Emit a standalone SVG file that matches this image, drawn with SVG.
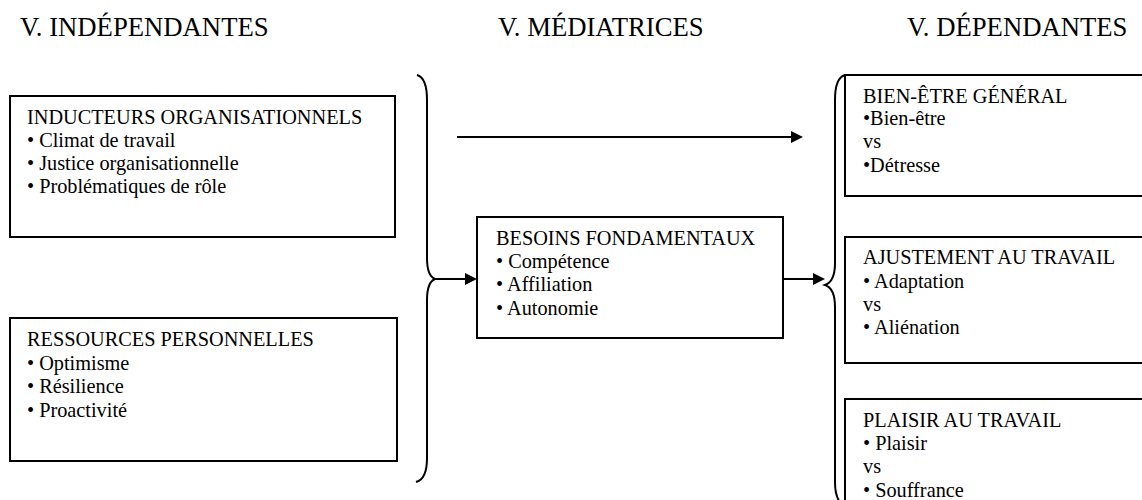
<svg xmlns="http://www.w3.org/2000/svg" width="1142" height="500" viewBox="0 0 1142 500">
<style>
.h{font-size:26.7px}
.t{font-size:20.3px}
.box{fill:#fff;stroke:#000;stroke-width:2}
.ln{fill:none;stroke:#000;stroke-width:2}
</style>
<defs>
<marker id="ah" markerUnits="userSpaceOnUse" markerWidth="12" markerHeight="12" refX="0" refY="6" orient="auto">
<path d="M0,0 L12,6 L0,12 z" fill="#000"/>
</marker>
</defs>
<rect width="1142" height="500" fill="#fff"/>
<g font-family="'Liberation Serif', 'Times New Roman', Tinos, 'DejaVu Serif', serif" fill="#000">
<g id="headers">
<text class="h" x="20" y="36">V. INDÉPENDANTES</text>
<text class="h" x="498" y="36">V. MÉDIATRICES</text>
<text class="h" x="907" y="36">V. DÉPENDANTES</text>
</g>
<g id="inducteurs">
<rect class="box" x="10" y="96" width="385" height="141"/>
<text class="t" x="27" y="124">INDUCTEURS ORGANISATIONNELS</text>
<text class="t" x="27" y="147">• Climat de travail</text>
<text class="t" x="27" y="170">• Justice organisationnelle</text>
<text class="t" x="27" y="193">• Problématiques de rôle</text>
</g>
<g id="ressources">
<rect class="box" x="10" y="318" width="387" height="143"/>
<text class="t" x="27" y="346">RESSOURCES PERSONNELLES</text>
<text class="t" x="27" y="370">• Optimisme</text>
<text class="t" x="27" y="393">• Résilience</text>
<text class="t" x="27" y="417">• Proactivité</text>
</g>
<g id="besoins">
<rect class="box" x="477" y="217" width="306" height="121"/>
<text class="t" x="496" y="245">BESOINS FONDAMENTAUX</text>
<text class="t" x="496" y="268">• Compétence</text>
<text class="t" x="496" y="291">• Affiliation</text>
<text class="t" x="496" y="315">• Autonomie</text>
</g>
<g id="bienetre">
<rect class="box" x="845" y="75" width="320" height="121"/>
<text class="t" x="863" y="103">BIEN-ÊTRE GÉNÉRAL</text>
<text class="t" x="863" y="125">•Bien-être</text>
<text class="t" x="863" y="148">vs</text>
<text class="t" x="863" y="172">•Détresse</text>
</g>
<g id="ajustement">
<rect class="box" x="845" y="237" width="320" height="126"/>
<text class="t" x="863" y="264">AJUSTEMENT AU TRAVAIL</text>
<text class="t" x="863" y="288">• Adaptation</text>
<text class="t" x="863" y="311">vs</text>
<text class="t" x="863" y="334">• Aliénation</text>
</g>
<g id="plaisir">
<rect class="box" x="845" y="399" width="320" height="130"/>
<text class="t" x="863" y="427">PLAISIR AU TRAVAIL</text>
<text class="t" x="863" y="450">• Plaisir</text>
<text class="t" x="863" y="473">vs</text>
<text class="t" x="863" y="497">• Souffrance</text>
</g>
</g>
<g id="connectors">
<path class="ln" d="M417,75 C424,77 427,85 427,100 L427,258 C427,270 430,277 435,279 C430,281 427,288 427,300 L427,458 C427,472 424,480 416,482"/>
<path class="ln" d="M845,75 C838,77 835,85 835,100 L835,263 C835,276 831,283 825,285 C831,287 835,294 835,307 L835,482 C835,496 838,503 845,506"/>
<line class="ln" x1="457" y1="137" x2="791" y2="137" marker-end="url(#ah)"/>
<line class="ln" x1="435" y1="279" x2="465" y2="279" marker-end="url(#ah)"/>
<line class="ln" x1="783" y1="279" x2="813" y2="279" marker-end="url(#ah)"/>
</g>
</svg>
